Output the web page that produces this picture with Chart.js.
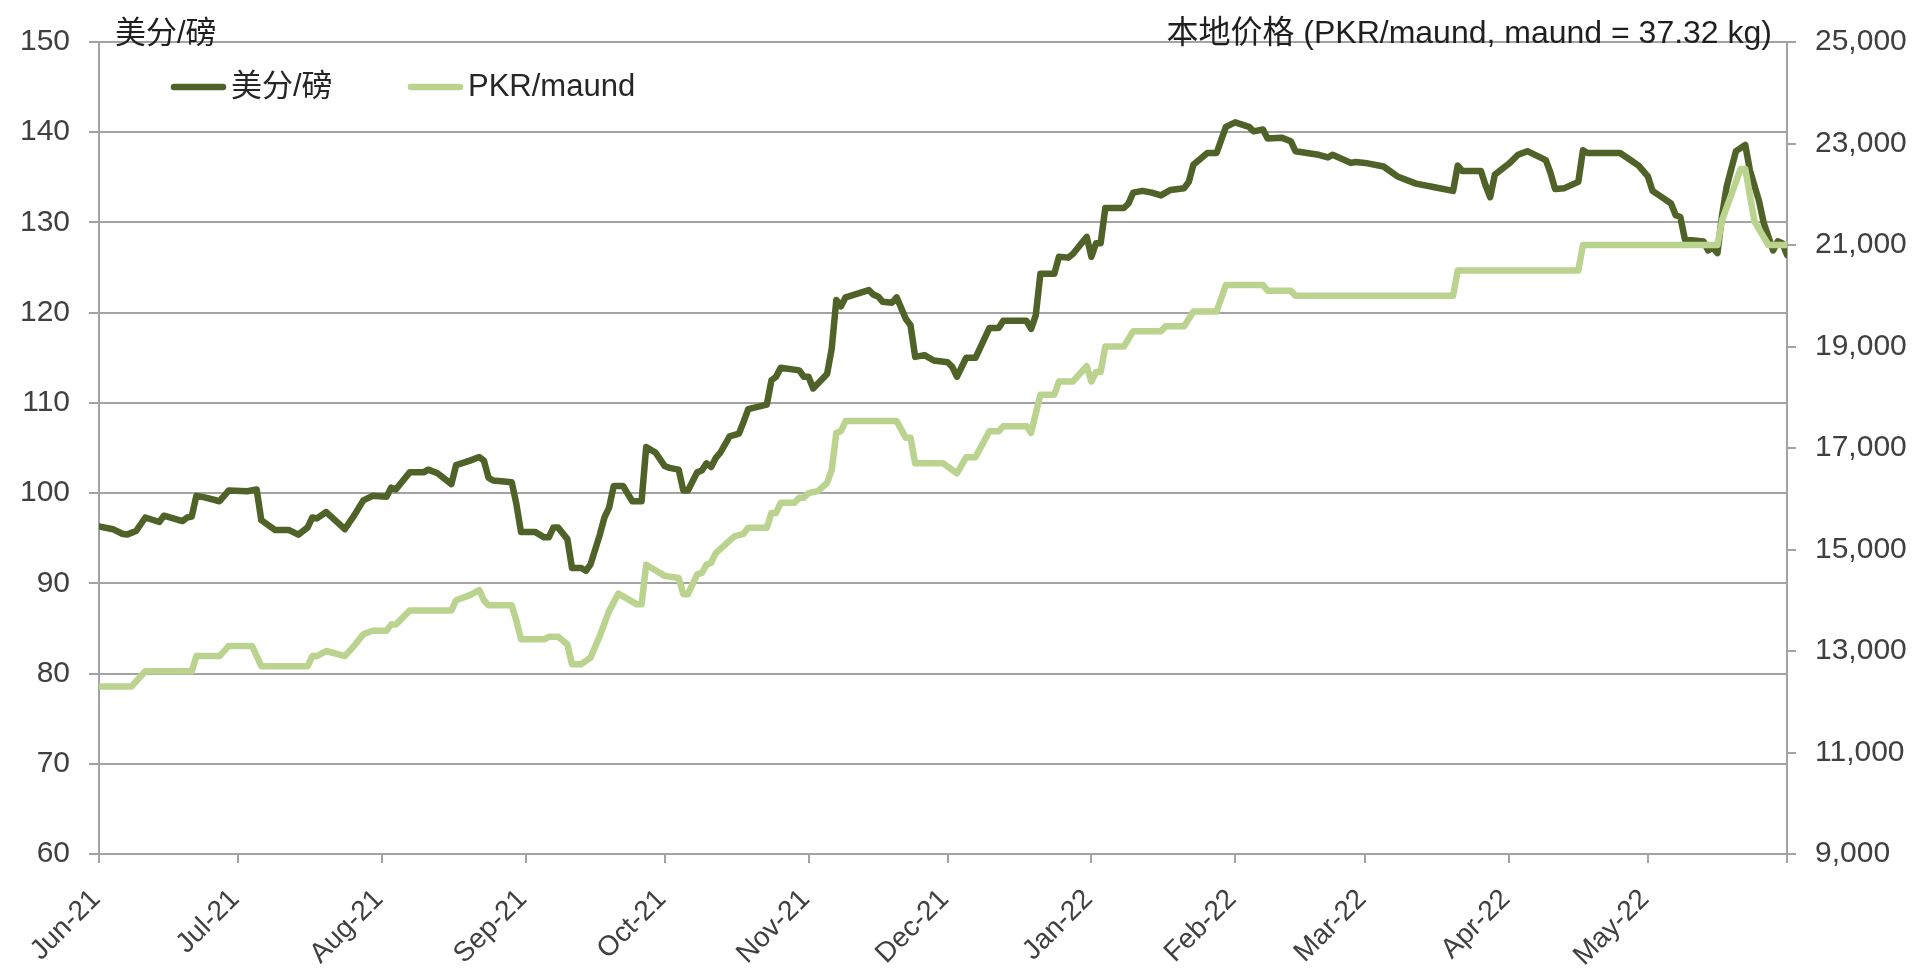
<!DOCTYPE html>
<html>
<head>
<meta charset="utf-8">
<script src="https://cdn.jsdelivr.net/npm/chart.js@4.4.1/dist/chart.umd.min.js"></script>
<style>
html,body{margin:0;padding:0;background:#ffffff;}
#wrap{width:1928px;height:973px;position:relative;}
</style>
</head>
<body>
<div id="wrap"><canvas id="c"></canvas></div>
<script>
// x values are days since 2021-06-01
const START_DATE = '2021-06-01';
const monthTickDays = [0, 30, 61, 92, 122, 153, 183, 214, 245, 273, 304, 334, 364];
const monthTickLabels = ['Jun-21','Jul-21','Aug-21','Sep-21','Oct-21','Nov-21','Dec-21','Jan-22','Feb-22','Mar-22','Apr-22','May-22',''];

const leftTitle = '美分/磅';
const rightTitle = '本地价格 (PKR/maund, maund = 37.32 kg)';
const seriesNames = ['美分/磅', 'PKR/maund'];

// 美分/磅 (US cents per lb)
const usDays = [0,3,5,6,8,10,13,14,18,19,20,21,23,26,28,32,34,35,38,41,43,45,46,47,49,53,55,57,59,62,63,64,67,70,71,73,76,77,80,82,83,84,85,89,90,91,94,96,97,98,99,101,102,104,105,106,108,109,110,111,113,115,117,118,120,122,123,125,126,127,129,130,131,132,133,134,136,138,139,140,144,145,146,147,151,152,153,154,157,158,159,160,161,166,167,168,169,171,172,174,175,176,178,180,183,184,185,187,189,192,194,195,200,201,202,203,206,207,209,210,213,214,215,216,217,221,222,223,225,227,229,231,234,235,236,239,241,243,245,248,249,251,252,255,257,258,263,265,266,270,271,273,277,280,284,288,292,293,294,298,299,300,301,304,306,308,310,312,313,314,316,319,320,321,328,330,332,334,335,337,339,340,341,342,346,347,348,349,350,351,353,355,356,358,359,361,362,363,364];
const usCents = [96.3,96.0,95.5,95.4,95.8,97.3,96.8,97.5,96.9,97.3,97.4,99.7,99.5,99.1,100.3,100.2,100.4,97.0,95.9,95.9,95.4,96.2,97.3,97.2,97.9,96.0,97.5,99.2,99.7,99.6,100.6,100.4,102.3,102.3,102.6,102.2,101.0,103.1,103.6,104.0,103.6,101.7,101.4,101.2,98.8,95.7,95.7,95.1,95.1,96.2,96.2,94.9,91.7,91.7,91.4,92.1,95.4,97.3,98.4,100.8,100.8,99.1,99.1,105.1,104.5,103.0,102.8,102.6,100.3,100.3,102.3,102.5,103.3,102.9,103.9,104.5,106.3,106.6,107.9,109.3,109.8,112.5,112.9,113.9,113.6,112.9,112.9,111.6,113.2,116.0,121.4,120.7,121.7,122.5,122.0,121.8,121.2,121.1,121.7,119.3,118.6,115.1,115.3,114.7,114.5,114.0,112.9,115.0,115.0,118.3,118.3,119.1,119.1,118.2,119.7,124.3,124.3,126.2,126.1,126.5,128.4,126.2,127.7,127.7,131.6,131.6,132.1,133.3,133.5,133.3,133.0,133.6,133.8,134.5,136.4,137.7,137.7,140.6,141.1,140.6,140.1,140.3,139.3,139.4,139.0,137.9,137.5,137.2,137.5,136.6,136.7,136.6,136.2,135.1,134.3,133.9,133.5,136.3,135.7,135.7,134.1,132.8,135.3,136.5,137.5,137.9,137.4,136.9,135.5,133.7,133.8,134.5,138.0,137.7,137.7,137.0,136.3,135.1,133.5,132.8,132.1,130.8,130.6,128.1,127.9,126.9,127.2,126.6,130.8,134.0,137.9,138.6,135.8,132.3,129.9,126.9,127.9,127.7,126.4];

// PKR/maund (local price)
const pkDays = [0,7,10,20,21,26,28,33,35,45,46,47,49,53,55,57,59,62,63,64,67,76,77,80,82,83,84,89,90,91,96,97,99,101,102,104,106,108,110,112,116,117,118,122,125,126,127,129,130,131,132,133,137,139,140,144,145,146,147,150,151,152,153,155,157,158,159,160,161,172,174,175,176,182,185,187,189,192,194,195,200,201,203,206,207,210,213,214,215,216,217,221,223,229,230,234,236,241,243,251,252,257,258,292,293,319,320,349,350,354,355,357,360,364];
const pkPrice = [12300,12300,12600,12600,12900,12900,13100,13100,12700,12700,12900,12900,13000,12900,13100,13330,13400,13400,13520,13520,13800,13800,14000,14100,14200,14000,13900,13900,13600,13230,13230,13280,13280,13130,12740,12740,12870,13300,13790,14130,13920,13920,14700,14480,14440,14120,14120,14510,14540,14700,14740,14930,15260,15310,15430,15430,15720,15720,15920,15920,16020,16020,16110,16150,16310,16570,17300,17330,17530,17530,17200,17200,16700,16700,16500,16820,16820,17330,17330,17430,17430,17300,18050,18050,18310,18310,18610,18310,18500,18500,19000,19000,19300,19300,19400,19400,19690,19690,20210,20210,20100,20100,20000,20000,20500,20500,21000,21000,21490,22500,22500,21460,21000,21000];

const DARK = '#4F6228';
const LIGHT = '#BAD38E';
const GRID = '#a3a3a3';
const TICK_COLOR = '#404040';
const FONT_FAMILY = "'Liberation Sans', 'Noto Sans CJK SC', Arial, sans-serif";

const decor = {
  id: 'decor',
  afterDraw(chart) {
    const ctx = chart.ctx;
    const a = chart.chartArea;
    ctx.save();
    ctx.fillStyle = '#1f1f1f';
    ctx.textBaseline = 'alphabetic';
    ctx.font = '31px ' + FONT_FAMILY;
    ctx.textAlign = 'left';
    ctx.fillText(leftTitle, a.left + 16, a.top + 1);
    ctx.font = '32px ' + FONT_FAMILY;
    ctx.textAlign = 'right';
    ctx.fillText(rightTitle, a.right - 15, a.top + 1);
    // legend
    ctx.font = '31px ' + FONT_FAMILY;
    const ly = a.top + 45;
    const items = [
      {x: a.left + 75, color: DARK, label: seriesNames[0]},
      {x: a.left + 312, color: LIGHT, label: seriesNames[1]}
    ];
    ctx.textAlign = 'left';
    ctx.textBaseline = 'middle';
    items.forEach(it => {
      ctx.strokeStyle = it.color;
      ctx.lineWidth = 6.5;
      ctx.lineCap = 'round';
      ctx.beginPath();
      ctx.moveTo(it.x, ly);
      ctx.lineTo(it.x + 49, ly);
      ctx.stroke();
      ctx.fillStyle = '#262626';
      ctx.fillText(it.label, it.x + 57, ly);
    });
    ctx.restore();
  }
};

const tickFont = {family: FONT_FAMILY, size: 30};
const monthFont = {family: FONT_FAMILY, size: 28};

new Chart(document.getElementById('c'), {
  type: 'line',
  data: {
    datasets: [
      {
        label: seriesNames[0],
        data: usDays.map((d, i) => ({x: d, y: usCents[i]})),
        yAxisID: 'y',
        borderColor: DARK,
        borderWidth: 6.5,
        pointRadius: 0,
        tension: 0,
        borderJoinStyle: 'round',
        borderCapStyle: 'round',
        order: 1
      },
      {
        label: seriesNames[1],
        data: pkDays.map((d, i) => ({x: d, y: pkPrice[i]})),
        yAxisID: 'y1',
        borderColor: LIGHT,
        borderWidth: 6.5,
        pointRadius: 0,
        tension: 0,
        borderJoinStyle: 'round',
        borderCapStyle: 'round',
        order: 0
      }
    ]
  },
  options: {
    responsive: true,
    maintainAspectRatio: false,
    animation: false,
    layout: {padding: {top: 42, left: 0, right: 0, bottom: 0}},
    plugins: {legend: {display: false}, tooltip: {enabled: false}, title: {display: false}},
    scales: {
      x: {
        type: 'linear',
        position: 'bottom',
        min: 0,
        max: 364,
        afterBuildTicks: s => { s.ticks = monthTickDays.map(v => ({value: v})); },
        afterFit: s => { s.height = 119; },
        ticks: {
          autoSkip: false,
          maxRotation: 45,
          minRotation: 45,
          font: monthFont,
          color: TICK_COLOR,
          padding: 20,
          labelOffset: -3,
          callback: v => monthTickLabels[monthTickDays.indexOf(v)]
        },
        grid: {drawOnChartArea: false, drawTicks: true, tickLength: 9, color: GRID, lineWidth: 2},
        border: {display: true, color: GRID, width: 2}
      },
      y: {
        type: 'linear',
        position: 'left',
        min: 60,
        max: 150,
        afterFit: s => { s.width = 99; },
        ticks: {stepSize: 10, font: tickFont, color: TICK_COLOR, padding: 19},
        grid: {drawOnChartArea: true, drawTicks: true, tickLength: 10, color: GRID, lineWidth: 2},
        border: {display: true, color: GRID, width: 2}
      },
      y1: {
        type: 'linear',
        position: 'right',
        min: 9000,
        max: 25000,
        afterFit: s => { s.width = 141; },
        ticks: {stepSize: 2000, font: tickFont, color: TICK_COLOR, padding: 19,
          callback: v => v.toLocaleString('en-US')},
        grid: {drawOnChartArea: false, drawTicks: true, tickLength: 9, color: GRID, lineWidth: 2},
        border: {display: true, color: GRID, width: 2}
      }
    }
  },
  plugins: [decor]
});
</script>
</body>
</html>
